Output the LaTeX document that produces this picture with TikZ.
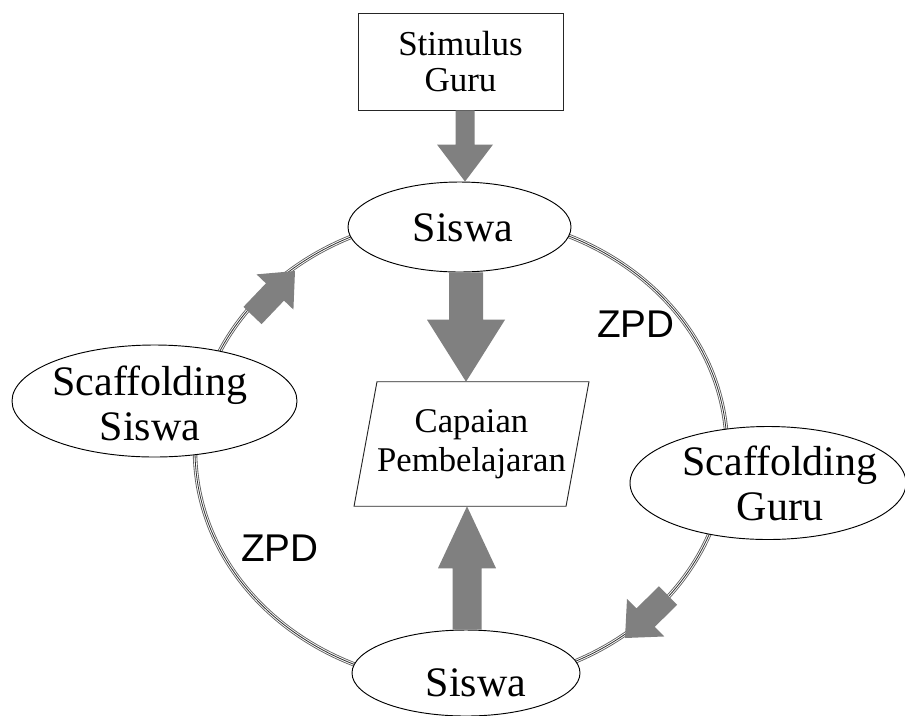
\documentclass[tikz,border=0pt]{standalone}
\usepackage{fontspec}
\setmainfont{Liberation Serif}
\newfontfamily\zpdfont{Liberation Sans}
\usetikzlibrary{calc,shapes.geometric}

\definecolor{arrowgray}{RGB}{128,128,128}
\definecolor{ringouter}{RGB}{95,95,95}
\definecolor{ringinner}{RGB}{50,50,50}

% Block arrow: #1 start, #2 tip, #3 shaft width, #4 head width, #5 head length
\newcommand\blockarrow[5]{%
  \coordinate (ba-h) at ($(#2)!#5!(#1)$);
  \fill[arrowgray]
    ($(#1)!#3/2!90:(#2)$) -- ($(ba-h)!#3/2!90:(#2)$) --
    ($(ba-h)!#4/2!90:(#2)$) -- (#2) --
    ($(ba-h)!#4/2!-90:(#2)$) -- ($(ba-h)!#3/2!-90:(#2)$) --
    ($(#1)!#3/2!-90:(#2)$) -- cycle;
}

\begin{document}
\begin{tikzpicture}[x=0.75pt,y=-0.75pt,
  oval/.style={ellipse, draw=black, line width=0.7pt, fill=white, inner sep=0pt},
  boxnode/.style={rectangle, draw=black!85, line width=0.7pt, fill=white, inner sep=0pt,
    align=center, font=\fontsize{26.25}{27}\selectfont},
  ring/.style={draw=ringouter, line width=3.3pt,
    postaction={draw=white, line width=2.0pt},
    postaction={draw=ringinner, line width=0.6pt}},
  bigtext/.style={inner sep=0pt, align=center, font=\fontsize{31.5}{33.75}\selectfont},
  zpd/.style={inner sep=0pt, font=\zpdfont\fontsize{29}{30}\selectfont},
]
\useasboundingbox (0,0) rectangle (905,715);

% the learning cycle ring
\draw[ring] (461,450) ellipse [x radius=199.5pt, y radius=175.5pt];

% nodes
\node[boxnode, minimum width=153.75pt, minimum height=72.75pt] (stim) at (460.5,61.5) {Stimulus\\Guru};
\node[oval, minimum width=167.25pt, minimum height=67.5pt] (siswaT) at (459.5,227) {};
\node[oval, minimum width=171pt, minimum height=64.5pt] (siswaB) at (466,673) {};
\node[oval, minimum width=213.75pt, minimum height=84pt] (scafS) at (154.5,401) {};
\node[oval, minimum width=207pt, minimum height=84.75pt] (scafG) at (768,483) {};

% learning outcome (parallelogram)
\node[rectangle, inner sep=0pt, minimum width=158.6pt, minimum height=93pt,
      align=center, font=\fontsize{26}{29.25}\selectfont] (cap) at (471.5,444)
      {Capaian\\Pembelajaran};
\draw[line width=0.7pt, black!85]
  ([xshift=8.6pt]cap.north west) -- ([xshift=8.6pt]cap.north east) --
  ([xshift=-8.6pt]cap.south east) -- ([xshift=-8.6pt]cap.south west) -- cycle;

% texts of the ovals
\node[bigtext] (tSiswaT) at (463,228) {Siswa};
\node[bigtext] (tSiswaB) at (476,683) {Siswa};
\node[bigtext] (tScafS) at (150,403) {Scaffolding\\Siswa};
\node[bigtext] (tScafG) at (780,483) {Scaffolding\\Guru};

\node[zpd] (zpdR) at (636,324) {ZPD};
\node[zpd] (zpdL) at (280,548) {ZPD};

% vertical block arrows
\coordinate (a1s) at (465,0 |- stim.south);
\coordinate (a1t) at (465,0 |- siswaT.north);
\coordinate (a2s) at (466,0 |- siswaT.south);
\coordinate (a2t) at (466,0 |- cap.north);
\coordinate (a3s) at (467,0 |- siswaB.north);
\coordinate (a3t) at (467,0 |- cap.south);
\blockarrow{a1s}{a1t}{14.25pt}{42pt}{27.75pt}
\blockarrow{a2s}{a2t}{25.5pt}{58.5pt}{46.5pt}
\blockarrow{a3s}{a3t}{21.75pt}{43.5pt}{46.5pt}

% block arrows on the ring
\coordinate (a4s) at (252.5,315.5);
\coordinate (a4t) at (295,271);
\coordinate (a5s) at (668,595.5);
\coordinate (a5t) at (625,638);
\blockarrow{a4s}{a4t}{18.75pt}{38.25pt}{21.75pt}
\blockarrow{a5s}{a5t}{19.5pt}{39.75pt}{21.75pt}
\end{tikzpicture}
\end{document}
